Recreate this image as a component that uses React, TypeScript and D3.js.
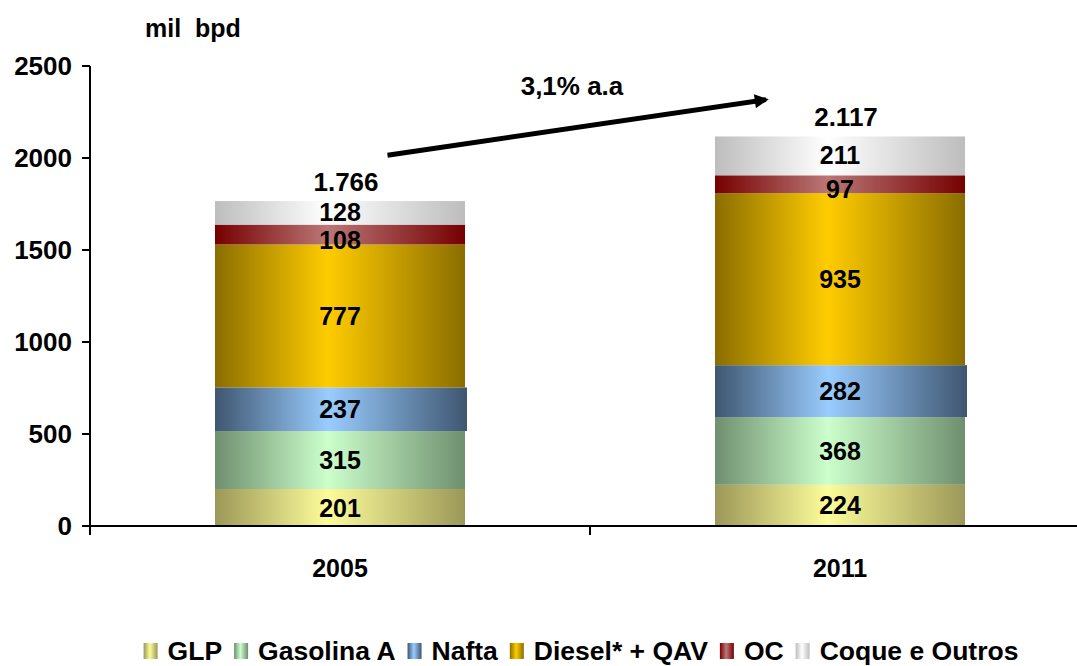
import React, { useRef, useEffect } from 'react';
import * as d3 from 'd3';

const years = ['2005', '2011'];
const products = ['GLP', 'Gasolina A', 'Nafta', 'Diesel* + QAV', 'OC', 'Coque e Outros'];
const glp = [201, 224];
const gasolina = [315, 368];
const nafta = [237, 282];
const diesel = [777, 935];
const oc = [108, 97];
const coque = [128, 211];
const totals = ['1.766', '2.117'];
const yTicks = [0, 500, 1000, 1500, 2000, 2500];
const unitLabel = 'mil  bpd';
const growthLabel = '3,1% a.a';
// arrow ends: [fraction across the bar, value]
const arrowFrom = [0.69, 2015];
const arrowTo = [0.22, 2320];

// edge and centre colour of each series' horizontal shading
const shades = [
    ['#9c9858', '#fdfc9a'],
    ['#6f8f6f', '#ccffcc'],
    ['#3f5670', '#99ccff'],
    ['#8a6d00', '#ffcc00'],
    ['#760000', '#ba7777'],
    ['#bdbdbd', '#ffffff']
];
// thin segments have their label pushed down a little
const labelShift = [0, 0, 0, 0, 5, -1];

const FONT = 'Arial, "Liberation Sans", sans-serif';

const App = () => {
    const ref = useRef<SVGSVGElement>(null);

    useEffect(() => {
        document.body.style.margin = '0';
        const svg = d3.select(ref.current);
        svg.selectAll('*').remove();

        const width = 1077;
        const left = 90;
        const x = d3.scaleBand().domain(years).range([left, left + 1000]).paddingInner(0.5).paddingOuter(0.25);
        const y = d3.scaleLinear().domain([0, 2500]).range([526, 66]);

        // build a row per year for the stack
        const series = [glp, gasolina, nafta, diesel, oc, coque];
        const rows = years.map((yr, i) => {
            const r: any = { year: yr };
            products.forEach((p, k) => { r[p] = series[k][i]; });
            return r;
        });
        const stacked = d3.stack().keys(products)(rows);

        const defs = svg.append('defs');
        shades.forEach((s, k) => {
            const g = defs.append('linearGradient').attr('id', 'shade' + k)
                .attr('x1', '0%').attr('x2', '100%').attr('y1', '0%').attr('y2', '0%');
            g.append('stop').attr('offset', '0%').attr('stop-color', s[0]);
            g.append('stop').attr('offset', '45%').attr('stop-color', s[1]);
            g.append('stop').attr('offset', '100%').attr('stop-color', s[0]);
        });
        defs.append('marker').attr('id', 'head')
            .attr('viewBox', '0 0 10 10').attr('refX', 8).attr('refY', 5)
            .attr('markerUnits', 'userSpaceOnUse')
            .attr('markerWidth', 15).attr('markerHeight', 14)
            .attr('orient', 'auto')
            .append('path').attr('d', 'M0,0 L10,5 L0,10 z').attr('fill', '#000');

        // bars
        stacked.forEach((layer, k) => {
            svg.append('g').selectAll('rect').data(layer).enter().append('rect')
                .attr('x', d => x(d.data.year as string)!)
                .attr('width', k === 2 ? x.bandwidth() + 2 : x.bandwidth())
                .attr('y', d => y(d[1]))
                .attr('height', d => y(d[0]) - y(d[1]))
                .attr('fill', 'url(#shade' + k + ')');
        });

        // segment labels
        stacked.forEach((layer, k) => {
            svg.append('g').selectAll('text').data(layer).enter().append('text')
                .attr('x', d => x(d.data.year as string)! + x.bandwidth() / 2)
                .attr('y', d => (y(d[0]) + y(d[1])) / 2 + labelShift[k])
                .attr('dy', '0.36em')
                .attr('text-anchor', 'middle')
                .style('font', 'bold 25px ' + FONT)
                .text(d => d[1] - d[0]);
        });

        // totals
        const top = stacked[stacked.length - 1];
        svg.append('g').selectAll('text').data(top).enter().append('text')
            .attr('x', d => x(d.data.year as string)! + x.bandwidth() / 2 + 6)
            .attr('y', d => y(d[1]) - 10)
            .attr('text-anchor', 'middle')
            .style('font', 'bold 26px ' + FONT)
            .text((d, i) => totals[i]);

        // axes
        const axis = svg.append('g').attr('stroke', '#000').attr('stroke-width', 2);
        axis.append('line').attr('x1', left).attr('x2', left).attr('y1', y(2500)).attr('y2', y(0) + 9);
        axis.append('line').attr('x1', left - 8).attr('x2', width).attr('y1', y(0)).attr('y2', y(0));
        axis.selectAll('.yt').data(yTicks).enter().append('line')
            .attr('x1', left - 8).attr('x2', left).attr('y1', d => y(d)).attr('y2', d => y(d));
        const xTicks = [left, left + x.step(), left + 2 * x.step()];
        axis.selectAll('.xt').data(xTicks).enter().append('line')
            .attr('x1', d => d).attr('x2', d => d).attr('y1', y(0)).attr('y2', y(0) + 9);

        svg.append('g').selectAll('text').data(yTicks).enter().append('text')
            .attr('x', left - 18).attr('y', d => y(d)).attr('dy', '0.36em')
            .attr('text-anchor', 'end')
            .style('font', 'bold 26px ' + FONT)
            .text(d => d);

        svg.append('g').selectAll('text').data(years).enter().append('text')
            .attr('x', d => x(d)! + x.bandwidth() / 2)
            .attr('y', y(0) + 51)
            .attr('text-anchor', 'middle')
            .style('font', 'bold 25px ' + FONT)
            .text(d => d);

        svg.append('text').attr('x', 145).attr('y', 37)
            .attr('xml:space', 'preserve').style('white-space', 'pre')
            .style('font', 'bold 25px ' + FONT)
            .text(unitLabel);

        // growth arrow
        const ax1 = x(years[0])! + x.bandwidth() * arrowFrom[0];
        const ax2 = x(years[1])! + x.bandwidth() * arrowTo[0];
        svg.append('line')
            .attr('x1', ax1).attr('y1', y(arrowFrom[1]))
            .attr('x2', ax2 - 4).attr('y2', y(arrowTo[1]) + 0.5)
            .attr('stroke', '#000').attr('stroke-width', 5)
            .attr('marker-end', 'url(#head)');
        svg.append('text').attr('x', 572).attr('y', 95)
            .attr('text-anchor', 'middle')
            .style('font', 'bold 26px ' + FONT)
            .text(growthLabel);

        // legend
        const legend = svg.append('g');
        let cx = 0;
        products.forEach((p, k) => {
            const item = legend.append('g').attr('transform', `translate(${cx},0)`);
            item.append('rect').attr('x', 0).attr('y', -17).attr('width', 14).attr('height', 16)
                .attr('fill', 'url(#shade' + k + ')');
            const t = item.append('text').attr('x', 24).attr('y', 0)
                .style('font', 'bold 26.5px ' + FONT)
                .text(p);
            const w = (t.node() as SVGTextElement).getComputedTextLength();
            cx += 24 + w + 12;
        });
        const total = cx - 12;
        legend.attr('transform', `translate(${581 - total / 2},660)`);
    }, []);

    return <svg ref={ref} width={1077} height={666} style={{ display: 'block', background: '#fff' }} />;
};

export default App;
